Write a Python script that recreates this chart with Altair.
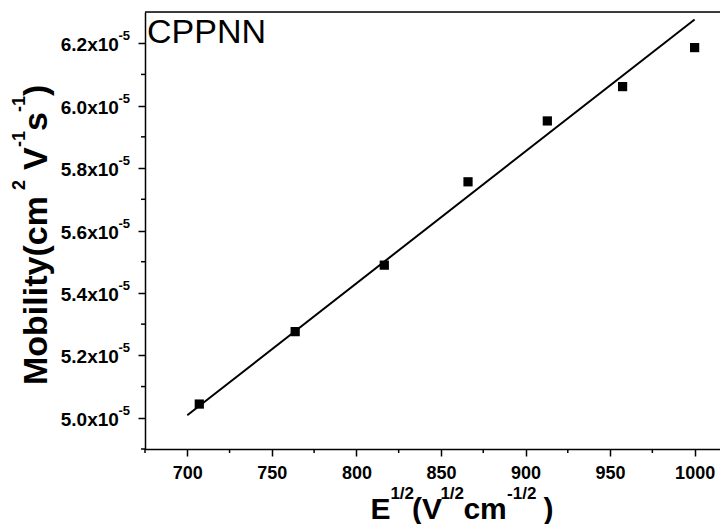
import altair as alt
import pandas as pd

# measured data (E^1/2, mobility)
e_sqrt = [707.1, 763.8, 816.5, 866.0, 912.9, 957.4, 1000.0]
mobility = [5.044e-5, 5.276e-5, 5.489e-5, 5.756e-5, 5.951e-5, 6.061e-5, 6.186e-5]

# linear fit endpoints
fit_x = [700.0, 1000.0]
fit_y = [5.008e-5, 6.276e-5]

x_major = [700, 750, 800, 850, 900, 950, 1000]
x_minor = [675, 725, 775, 825, 875, 925, 975]
y_major = [5.0e-5, 5.2e-5, 5.4e-5, 5.6e-5, 5.8e-5, 6.0e-5, 6.2e-5]
y_minor = [4.9e-5, 5.1e-5, 5.3e-5, 5.5e-5, 5.7e-5, 5.9e-5, 6.1e-5]

FONT = "Liberation Sans"
W, H = 575, 437
xs = alt.Scale(domain=[675, 1015], nice=False, zero=False)
ys = alt.Scale(domain=[4.9e-5, 6.3e-5], nice=False, zero=False)

pts_df = pd.DataFrame({"x": e_sqrt, "y": mobility})
fit_df = pd.DataFrame({"x": fit_x, "y": fit_y})

xaxis = alt.Axis(values=x_major, format="d", tickSize=7, tickWidth=1.5, tickColor="black",
                 domainColor="black", domainWidth=1.5, grid=False,
                 labelFont=FONT, labelFontWeight="bold", labelFontSize=18,
                 labelColor="black", labelBaseline="alphabetic", labelPadding=22,
                 labelFlush=False, labelOverlap=False)
yaxis = alt.Axis(values=y_major, tickSize=7, tickWidth=1.5, tickColor="black",
                 domainColor="black", domainWidth=1.5, grid=False,
                 labelFont=FONT, labelFontWeight="bold", labelFontSize=19,
                 labelColor="black", labelPadding=19.6, labelOffset=1.5,
                 labelExpr="format(datum.value*1e5, '.1f') + 'x10'",
                 labelFlush=False, labelOverlap=False)

points = alt.Chart(pts_df).mark_square(size=85, color="black", opacity=1).encode(
    x=alt.X("x:Q", scale=xs, axis=xaxis, title=None),
    y=alt.Y("y:Q", scale=ys, axis=yaxis, title=None),
)

line = alt.Chart(fit_df).mark_line(color="black", strokeWidth=2).encode(
    x=alt.X("x:Q", scale=xs),
    y=alt.Y("y:Q", scale=ys),
)

xminor = alt.Chart(pd.DataFrame({"x": x_minor})).mark_rule(color="black", strokeWidth=1.5).encode(
    x=alt.X("x:Q", scale=xs), y=alt.value(H), y2=alt.value(H + 4)
)
yminor = alt.Chart(pd.DataFrame({"y": y_minor})).mark_rule(color="black", strokeWidth=1.5).encode(
    y=alt.Y("y:Q", scale=ys), x=alt.value(0), x2=alt.value(-4)
)

one = alt.Data(values=[{}])

# top frame line (plot runs off the right edge, so no right border)
topline = alt.Chart(one).mark_rule(color="black", strokeWidth=1.5).encode(
    x=alt.value(0), x2=alt.value(W), y=alt.value(0)
)

ysup = alt.Chart(pd.DataFrame({"y": y_major})).mark_text(
    font=FONT, fontWeight="bold", fontSize=13, align="left", baseline="middle",
    dy=-7, color="black").encode(
    y=alt.Y("y:Q", scale=ys), x=alt.value(-26.6), text=alt.value("-5")
)


def txt(s, x, y, size, bold=True, angle=0):
    kw = dict(font=FONT, fontSize=size, align="left", baseline="alphabetic", color="black")
    if bold:
        kw["fontWeight"] = "bold"
    if angle:
        kw["angle"] = angle
    return alt.Chart(one).mark_text(**kw).encode(
        x=alt.value(x), y=alt.value(y), text=alt.value(s))

# x-axis title: E^{1/2}(V^{1/2}cm^{-1/2})
BX = 507
SX = BX - 20
xt = [
    txt("E", 225.4, BX, 30),
    txt("1/2", 245.4, SX, 17),
    txt("(V", 267.1, BX, 30),
    txt("1/2", 295.4, SX, 17),
    txt("cm", 318.4, BX, 30),
    txt("-1/2", 362.1, SX, 17),
    txt(")", 398.4, BX, 30),
]
# y-axis title: Mobility(cm^2 V^-1 s^-1), rotated
yt = [
    txt("Mobility(cm", -97.9, 373, 34, angle=270),
    txt("2", -119.6, 178, 18, angle=270),
    txt("V", -97.9, 158, 34, angle=270),
    txt("-1", -119.6, 135, 18, angle=270),
    txt("s", -97.9, 119, 34, angle=270),
    txt("-1", -119.6, 100, 18, angle=270),
    txt(")", -97.9, 84, 34, angle=270),
]

label = txt("CPPNN", 2, 31, 34, bold=False)

chart = alt.layer(line, points, xminor, yminor, topline, ysup, label, *xt, *yt).properties(
    width=W, height=H,
    autosize=alt.AutoSizeParams(type="none"),
    padding={"left": 137, "top": 4, "right": 0, "bottom": 75},
).configure_view(strokeWidth=0).configure(background="white")

chart.save("out.html", embed_options={"renderer": "svg", "actions": False})
